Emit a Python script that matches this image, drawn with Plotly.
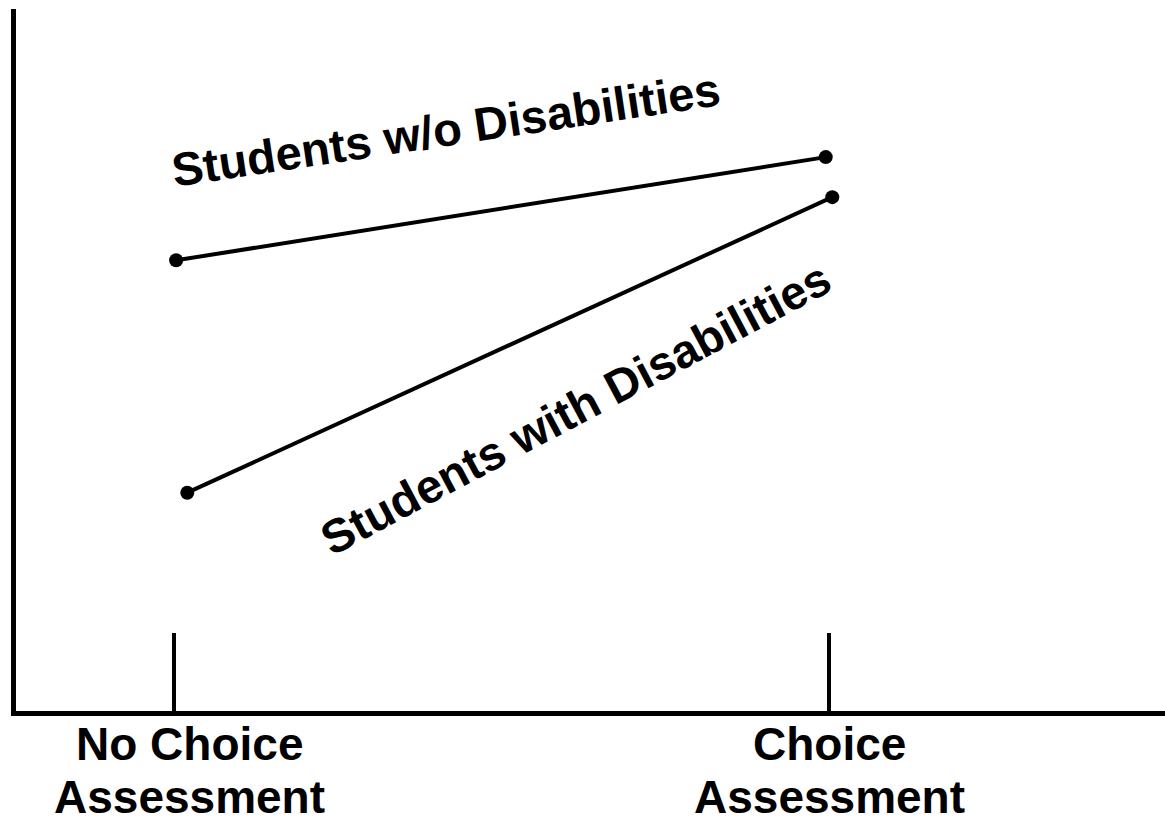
import plotly.graph_objects as go

# ---- data ----
conditions = ["No Choice Assessment", "Choice Assessment"]
condition_pos = [1, 2]
series_names = ["Students w/o Disabilities", "Students with Disabilities"]
x_without = [1.004, 1.995]
y_without = [64.2, 78.9]
x_with = [1.021, 2.005]
y_with = [31.1, 73.2]

FONT = "Liberation Sans, Arial, Helvetica, sans-serif"

fig = go.Figure()
for xs, ys, name in [(x_without, y_without, series_names[0]), (x_with, y_with, series_names[1])]:
    fig.add_trace(go.Scatter(
        x=xs, y=ys, mode="lines+markers", name=name,
        line=dict(color="black", width=4),
        marker=dict(color="black", size=14),
        showlegend=False, hoverinfo="skip",
    ))

# series labels (rotated)
fig.add_annotation(x=1.4157, y=82.8, xref="x", yref="y", text=series_names[0],
                   textangle=-8.5, showarrow=False, xanchor="center", yanchor="middle",
                   font=dict(family=FONT, size=47, color="black", weight="bold"))
fig.add_annotation(x=1.6125, y=43.1, xref="x", yref="y", text=series_names[1],
                   textangle=-28, showarrow=False, xanchor="center", yanchor="middle",
                   font=dict(family=FONT, size=47, color="black", weight="bold"))

# category labels (two lines each)
label_x = [1.025, 2.0015]
for lx, lab in zip(label_x, conditions):
    words = lab.split(" ")
    line1 = " ".join(words[:-1])
    line2 = words[-1]
    fig.add_annotation(x=lx, y=-0.047, xref="x", yref="paper", text=line1,
                       showarrow=False, xanchor="center", yanchor="middle",
                       font=dict(family=FONT, size=46, color="black", weight="bold"))
    fig.add_annotation(x=lx, y=-0.123, xref="x", yref="paper", text=line2,
                       showarrow=False, xanchor="center", yanchor="middle",
                       font=dict(family=FONT, size=46, color="black", weight="bold"))

fig.update_layout(
    width=1165, height=824,
    margin=dict(l=16, r=0, t=9, b=113, pad=0),
    paper_bgcolor="white", plot_bgcolor="white",
    xaxis=dict(range=[0.7597, 2.5126], showline=True, linewidth=5, linecolor="black",
               tickvals=condition_pos, ticktext=["", ""], ticks="inside", ticklen=78,
               tickwidth=4, tickcolor="black", showticklabels=False,
               showgrid=False, zeroline=False, fixedrange=True),
    yaxis=dict(range=[0, 100], showline=True, linewidth=5, linecolor="black",
               showticklabels=False, ticks="", showgrid=False, zeroline=False,
               fixedrange=True),
)

fig.write_html("out.html", config={"displayModeBar": False},
               post_script="document.body.style.margin='0';document.body.style.overflow='hidden';")
